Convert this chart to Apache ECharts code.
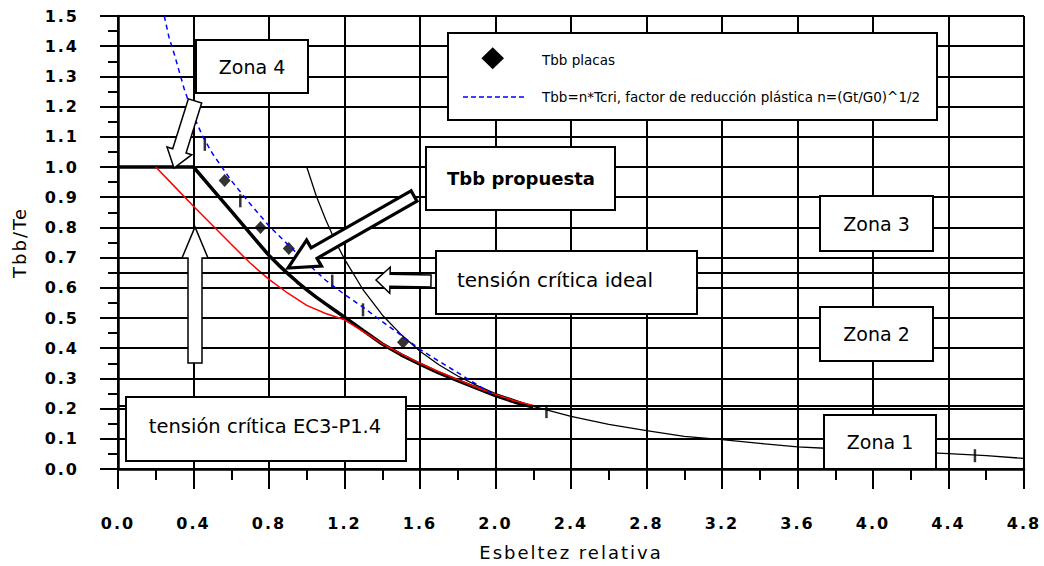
<!DOCTYPE html>
<html><head><meta charset="utf-8">
<script src="https://cdn.jsdelivr.net/npm/echarts@6/dist/echarts.min.js"></script>
<style>
html,body{margin:0;padding:0;background:#fff;}
#c{width:1044px;height:566px;}
#c text[style*="spA"]{letter-spacing:2px;}
</style></head><body><div id="c"></div>
<script>
// ---- data ----
const propuesta = [[0,1.0],[0.4,1.0],[0.5,0.927],[0.6,0.854],[0.7,0.78],[0.8,0.707],[0.85,0.676],[0.9,0.647],[0.95,0.619],[1.0,0.593],[1.05,0.569],[1.1,0.547],[1.15,0.525],[1.2,0.503],[1.3,0.458],[1.4,0.414],[1.5,0.378],[1.6,0.347],[1.7,0.318],[1.8,0.293],[1.9,0.268],[2.0,0.243],[2.1,0.222],[2.2,0.205]];
const ideal = [[1.0,1.0],[1.05,0.905],[1.1,0.826],[1.15,0.756],[1.2,0.695],[1.3,0.592],[1.4,0.51],[1.5,0.445],[1.6,0.39],[1.7,0.345],[1.8,0.308],[1.9,0.277],[2.0,0.25],[2.2,0.207],[2.4,0.174],[2.6,0.148],[2.8,0.127],[3.0,0.108],[3.2,0.097],[3.4,0.085],[3.6,0.073],[3.8,0.067],[4.0,0.062],[4.2,0.057],[4.4,0.051],[4.6,0.044],[4.8,0.035]];
const ec3 = [[0.2,1.0],[0.3,0.935],[0.4,0.87],[0.5,0.807],[0.6,0.744],[0.7,0.682],[0.8,0.628],[0.9,0.582],[1.0,0.542],[1.1,0.515],[1.2,0.494],[1.3,0.455],[1.4,0.415],[1.5,0.381],[1.6,0.35],[1.7,0.322],[1.8,0.296],[1.9,0.27],[2.0,0.247],[2.1,0.226],[2.2,0.21]];
const plastica = [[0.245,1.5],[0.27,1.43],[0.3,1.37],[0.35,1.26],[0.4,1.17],[0.45,1.1],[0.5,1.045],[0.6,0.955],[0.7,0.878],[0.8,0.805],[0.9,0.743],[1.0,0.683],[1.1,0.625],[1.2,0.578],[1.3,0.535],[1.4,0.488],[1.5,0.443],[1.6,0.396],[1.7,0.357],[1.8,0.319],[1.9,0.28],[2.0,0.243]];
const placas = [[0.565,0.955],[0.755,0.8],[0.905,0.73],[1.51,0.42]];
const marcas = [[0.46,1.075],[0.648,0.888],[1.135,0.622],[1.298,0.527],[2.27,0.19],[4.54,0.044]];
const refLines = [0.65, 0.21];
const xMin = 0, xMax = 4.8, xStep = 0.4;
const yMin = 0, yMax = 1.5, yStep = 0.1;
const xName = 'Esbeltez relativa';
const yName = 'Tbb/Te';
const legendNames = ['Tbb placas', 'Tbb=n*Tcri, factor de reducción plástica n=(Gt/G0)^1/2'];

// ---- annotation layout (pixels) ----
const BF = 'DejaVu Sans';
const boxes = [
  {x:196, y:40, w:112, h:53, text:'Zona 4', size:19},
  {x:426, y:147, w:189, h:63, text:'Tbb propuesta', size:18, bold:true, tx:521, ty:178},
  {x:436, y:251, w:261, h:63, text:'tensión crítica ideal', size:20, tx:555, ty:280},
  {x:126, y:397, w:280, h:64, text:'tensión crítica EC3-P1.4', size:19.5, tx:265, ty:426},
  {x:820, y:196, w:113, h:55, text:'Zona 3', size:19},
  {x:820, y:307, w:113, h:54, text:'Zona 2', size:19},
  {x:824, y:415, w:112, h:54, text:'Zona 1', size:19}
];
function arrowPts(tail, tip, sh, hh, hl){
  const dx = tip[0]-tail[0], dy = tip[1]-tail[1];
  const L = Math.hypot(dx,dy), ux = dx/L, uy = dy/L, nx = -uy, ny = ux;
  const bx = tip[0]-ux*hl, by = tip[1]-uy*hl;
  return [
    [tail[0]+nx*sh, tail[1]+ny*sh],
    [bx+nx*sh, by+ny*sh],
    [bx+nx*hh, by+ny*hh],
    [tip[0], tip[1]],
    [bx-nx*hh, by-ny*hh],
    [bx-nx*sh, by-ny*sh],
    [tail[0]-nx*sh, tail[1]-ny*sh]
  ];
}
const arrows = [
  {tail:[195,101], tip:[174,168], sh:7, hh:13, hl:18, lw:1.5},
  {tail:[195,363], tip:[195,227], sh:7, hh:13, hl:31, lw:1.5},
  {tail:[431,281], tip:[376,280], sh:6, hh:13, hl:14, lw:1.5},
  {tail:[414,196], tip:[288,268], sh:6, hh:15, hl:30, lw:3.2}
];

const graphics = [];
arrows.forEach(a => {
  graphics.push({type:'polygon', z:100, shape:{points:arrowPts(a.tail,a.tip,a.sh,a.hh,a.hl)},
    style:{fill:'#fff', stroke:'#000', lineWidth:a.lw, lineJoin:'miter'}});
});
boxes.forEach(b => {
  graphics.push({type:'rect', z:100, shape:{x:b.x, y:b.y, width:b.w, height:b.h},
    style:{fill:'#fff', stroke:'#000', lineWidth:2}});
  graphics.push({type:'text', z:101, style:{text:b.text,
    x:(b.tx!=null?b.tx:b.x+b.w/2), y:(b.ty!=null?b.ty:b.y+b.h/2),
    align:'center', verticalAlign:'middle', fill:'#000',
    fontSize:b.size, fontFamily:BF, fontWeight:b.bold?'bold':'normal'}});
});
// legend box
graphics.push({type:'rect', z:100, shape:{x:448, y:33, width:489, height:87}, style:{fill:'#fff', stroke:'#000', lineWidth:2}});
graphics.push({type:'polygon', z:101, shape:{points:[[492.7,47.3],[504,58.3],[492.7,69.3],[481.4,58.3]]}, style:{fill:'#000'}});
graphics.push({type:'line', z:101, shape:{x1:463, y1:97, x2:526, y2:97}, style:{stroke:'#0000ff', lineWidth:1.5, lineDash:[5,3]}});
graphics.push({type:'text', z:101, style:{text:legendNames[0], x:542, y:60, align:'left', verticalAlign:'middle', fill:'#000', fontSize:13.5, fontFamily:BF}});
graphics.push({type:'text', z:101, style:{text:legendNames[1], x:542, y:97, align:'left', verticalAlign:'middle', fill:'#000', fontSize:13.5, fontFamily:BF}});

const chart = echarts.init(document.getElementById('c'), null, {renderer:'svg'});
chart.setOption({
  animation:false,
  backgroundColor:'#fff',
  grid:{left:118, right:20, top:16, bottom:96},
  xAxis:{type:'value', min:xMin, max:xMax, interval:xStep,
    name:xName, nameLocation:'middle', nameGap:74,
    nameTextStyle:{fontSize:18, fontFamily:BF+', spA', color:'#000'},
    axisLine:{show:true, onZero:false, lineStyle:{color:'#000', width:2.5}},
    axisTick:{show:true, inside:false, length:20, lineStyle:{color:'#000', width:2}},
    minorTick:{show:true, splitNumber:2, length:11, lineStyle:{color:'#000', width:2}},
    splitLine:{show:true, lineStyle:{color:'#000', width:2}},
    axisLabel:{margin:46, color:'#000', fontSize:16, fontWeight:'bold', fontFamily:BF+', spA',
      formatter:v=>v.toFixed(1)}},
  yAxis:{type:'value', min:yMin, max:yMax, interval:yStep,
    name:yName, nameLocation:'middle', nameGap:90, nameRotate:90,
    nameTextStyle:{fontSize:18, fontFamily:BF+', spA', color:'#000'},
    axisLine:{show:true, onZero:false, lineStyle:{color:'#000', width:2.5}},
    axisTick:{show:true, inside:false, length:18, lineStyle:{color:'#000', width:2}},
    minorTick:{show:true, splitNumber:2, length:10, lineStyle:{color:'#000', width:2}},
    splitLine:{show:true, lineStyle:{color:'#000', width:2}},
    axisLabel:{margin:39, color:'#000', fontSize:16, fontWeight:'bold', fontFamily:BF+', spA',
      formatter:v=>v.toFixed(1)}},
  graphic:graphics,
  series:[
    {name:'refs', type:'line', data:[], silent:true,
      markLine:{silent:true, symbol:'none', label:{show:false},
        lineStyle:{color:'#000', width:2, type:'solid'},
        data:refLines.map(v=>({yAxis:v}))}},
    {name:'tensión crítica ideal', type:'line', data:ideal, showSymbol:false, symbol:'none',
      lineStyle:{color:'#000', width:1.3}},
    {name:'Tbb propuesta', type:'line', data:propuesta, showSymbol:false, symbol:'none',
      lineStyle:{color:'#000', width:3.5}},
    {name:'tensión crítica EC3-P1.4', type:'line', data:ec3, showSymbol:false, symbol:'none',
      lineStyle:{color:'#ff0000', width:1.5}},
    {name:legendNames[1], type:'line', data:plastica, showSymbol:false, symbol:'none',
      lineStyle:{color:'#0000ff', width:1.5, type:[5,4]}},
    {name:legendNames[0], type:'scatter', data:placas, symbol:'diamond', symbolSize:[12,13],
      itemStyle:{color:'#000'}},
    {name:'marcas', type:'scatter', data:marcas, symbol:'rect', symbolSize:[2.5,13],
      itemStyle:{color:'#000'}}
  ]
});
</script></body></html>
